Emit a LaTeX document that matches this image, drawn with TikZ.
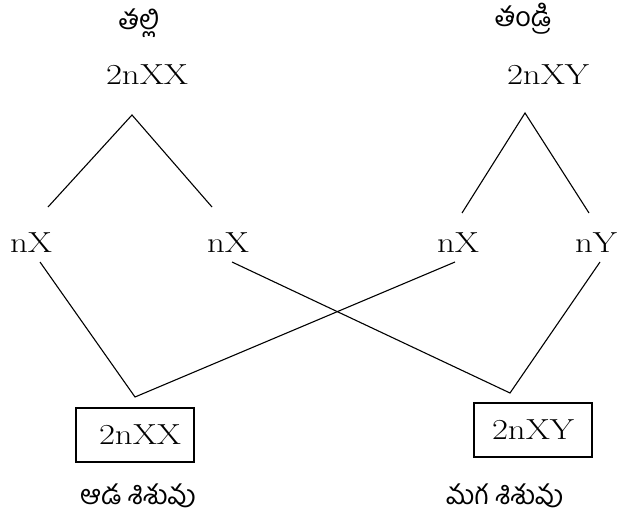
\documentclass[tikz,border=0pt]{standalone}
\usepackage{fontspec}
\newfontfamily\telugu[Script=Telugu]{Hind Guntur}
\newcommand\widetxt[1]{\scalebox{1.2}[1]{#1}}
\begin{document}
\begin{tikzpicture}[x=1pt,y=-1pt,
  lbl/.style={font=\fontsize{29}{30}\selectfont, inner sep=0pt},
  tel/.style={font=\telugu\fontsize{27}{29}\selectfont, inner sep=0pt},
  kid/.style={draw, line width=1.1pt, minimum width=118pt, minimum height=54pt, inner sep=0pt, font=\fontsize{29}{30}\selectfont},
  ln/.style={line width=1.1pt}]
\useasboundingbox (0,0) rectangle (620,527);
% labels
\node[tel] (mother) at (139,23) {తల్లి};
\node[tel] (father) at (523,19) {తండ్రి};
\node[lbl] (mXX) at (147,75) {\widetxt{2nXX}};
\node[lbl] (fXY) at (548,75) {\widetxt{2nXY}};
\node[lbl] (g1) at (31,243) {\widetxt{nX}};
\node[lbl] (g2) at (228,243) {\widetxt{nX}};
\node[lbl] (g3) at (458,243) {\widetxt{nX}};
\node[lbl] (g4) at (596,243) {\widetxt{nY}};
\node[kid] (dau) at (135,435) {\hspace*{10pt}\widetxt{2nXX}};
\node[kid] (son) at (533,430) {\widetxt{2nXY}};
\node[tel] (dlab) at (138,496) {ఆడ శిశువు};
\node[tel, anchor=west] (slab) at (446,496) {మగ శిశువు};
% connector points
\coordinate (ma) at (132,115);
\coordinate (fa) at (525,113);
\coordinate (m1) at (48,207);
\coordinate (m2) at (212,207);
\coordinate (f1) at (462,213);
\coordinate (f2) at (589,213);
\coordinate (b1) at (40,262);
\coordinate (b2) at (232,262);
\coordinate (b3) at (455,262);
\coordinate (b4) at (600,262);
\coordinate (vd) at (135,397);
\coordinate (vs) at (510,393);
% trees
\draw[ln] (m1) -- (ma) -- (m2);
\draw[ln] (f1) -- (fa) -- (f2);
% crossings
\draw[ln] (b1) -- (vd) -- (b3);
\draw[ln] (b2) -- (vs) -- (b4);
\end{tikzpicture}
\end{document}
